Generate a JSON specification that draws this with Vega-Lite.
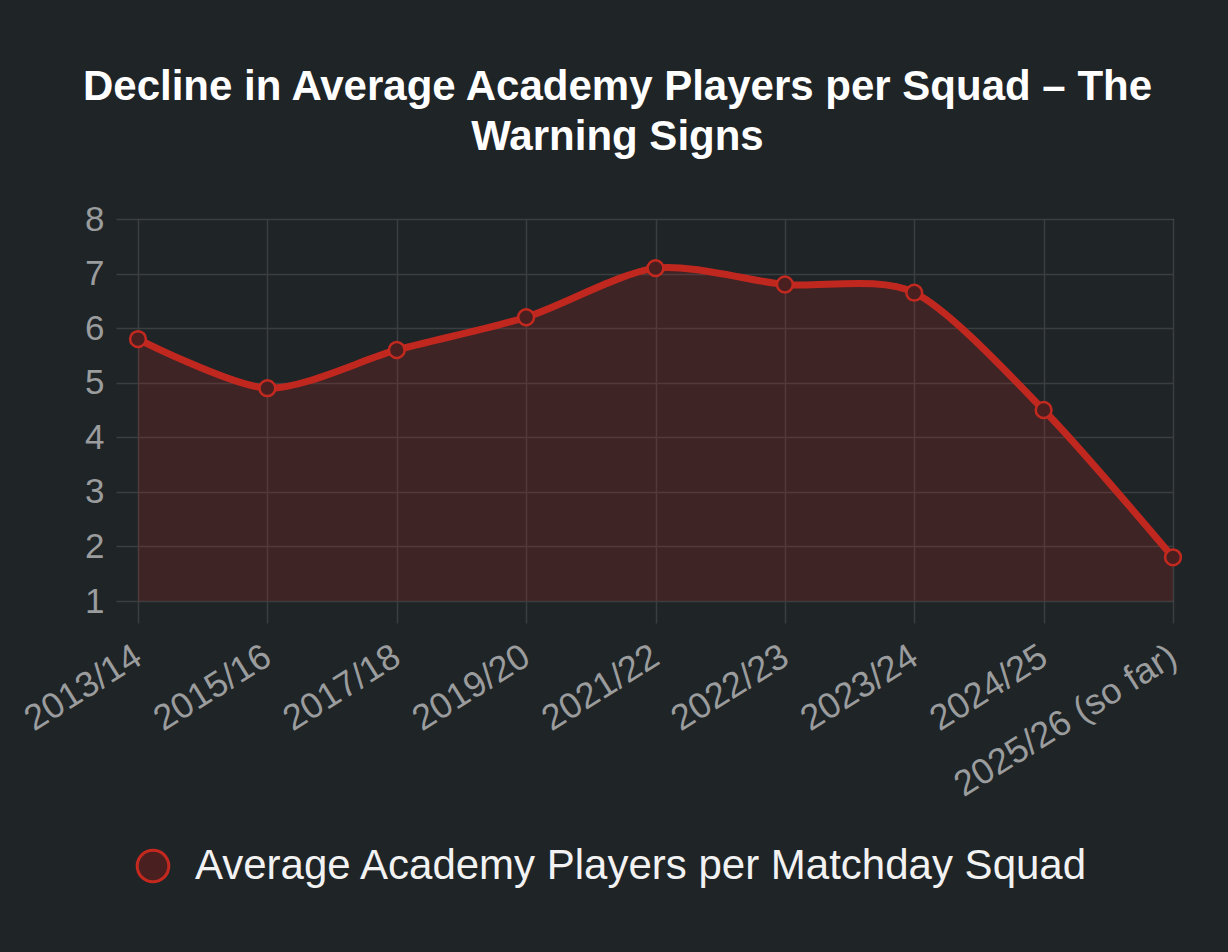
{
  "$schema": "https://vega.github.io/schema/vega-lite/v6.json",
  "width": 1035,
  "height": 382,
  "autosize": {"type": "none"},
  "padding": {"left": 138, "top": 219, "right": 55, "bottom": 351},
  "background": "#1f2427",
  "title": {
    "text": ["Decline in Average Academy Players per Squad – The", "Warning Signs"],
    "anchor": "middle",
    "dx": -38,
    "offset": 43,
    "font": "Liberation Sans",
    "fontSize": 42,
    "fontWeight": "bold",
    "color": "#ffffff",
    "lineHeight": 50
  },
  "data": {
    "values": [
      {"season": "2013/14", "value": 5.8, "series": "Average Academy Players per Matchday Squad"},
      {"season": "2015/16", "value": 4.9, "series": "Average Academy Players per Matchday Squad"},
      {"season": "2017/18", "value": 5.6, "series": "Average Academy Players per Matchday Squad"},
      {"season": "2019/20", "value": 6.2, "series": "Average Academy Players per Matchday Squad"},
      {"season": "2021/22", "value": 7.1, "series": "Average Academy Players per Matchday Squad"},
      {"season": "2022/23", "value": 6.8, "series": "Average Academy Players per Matchday Squad"},
      {"season": "2023/24", "value": 6.65, "series": "Average Academy Players per Matchday Squad"},
      {"season": "2024/25", "value": 4.5, "series": "Average Academy Players per Matchday Squad"},
      {"season": "2025/26 (so far)", "value": 1.8, "series": "Average Academy Players per Matchday Squad"}
    ]
  },
  "encoding": {
    "x": {
      "field": "season",
      "type": "ordinal",
      "sort": null,
      "scale": {"type": "point", "padding": 0},
      "axis": {
        "title": null,
        "labelAngle": -32,
        "labelAlign": "right",
        "labelBaseline": "middle",
        "labelFont": "Liberation Sans",
        "labelFontSize": 36,
        "labelColor": "#9a9c9d",
        "labelPadding": 30,
        "labelLimit": 500,
        "labelOverlap": false,
        "tickSize": 22,
        "tickColor": "#3a3e41",
        "domain": false,
        "grid": true,
        "gridColor": "#3a3e41",
        "gridWidth": 1.5,
        "tickWidth": 1.5
      }
    },
    "y": {
      "field": "value",
      "type": "quantitative",
      "scale": {"domain": [1, 8], "nice": false, "zero": false},
      "axis": {
        "title": null,
        "values": [1, 2, 3, 4, 5, 6, 7, 8],
        "labelFont": "Liberation Sans",
        "labelFontSize": 35,
        "labelColor": "#9a9c9d",
        "labelPadding": 12,
        "tickSize": 22,
        "tickColor": "#3a3e41",
        "tickWidth": 1.5,
        "domain": false,
        "grid": true,
        "gridColor": "#3a3e41",
        "gridWidth": 1.5
      }
    }
  },
  "layer": [
    {
      "mark": {"type": "area", "interpolate": "cardinal", "tension": 0.2, "color": "#c0281f", "fillOpacity": 0.2},
      "encoding": {"y2": {"datum": 1}}
    },
    {
      "mark": {"type": "line", "interpolate": "cardinal", "tension": 0.2, "color": "#c0281f", "strokeWidth": 7}
    },
    {
      "mark": {"type": "point", "shape": "circle", "size": 250, "fill": "#4a1f20", "opacity": 1, "strokeWidth": 2.5, "filled": false},
      "encoding": {
        "stroke": {
          "field": "series",
          "type": "nominal",
          "scale": {"range": ["#c4291f"]},
          "legend": {
            "title": null,
            "orient": "none",
            "legendX": -6,
            "legendY": 626,
            "padding": 0,
            "symbolType": "circle",
            "symbolSize": 1000,
            "symbolStrokeWidth": 3,
            "symbolFillColor": "#461e20",
            "symbolOpacity": 1,
            "labelFont": "Liberation Sans",
            "labelFontSize": 42,
            "labelColor": "#f2f2f2",
            "labelOffset": 21,
            "labelLimit": 1200
          }
        }
      }
    }
  ]
}
